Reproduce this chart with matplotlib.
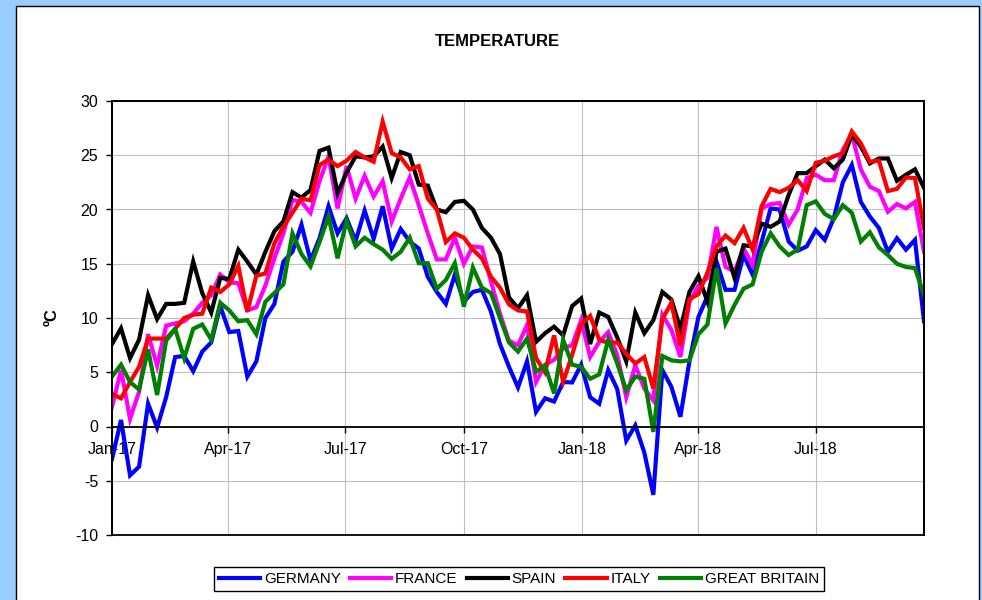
import numpy as np
import pandas as pd
import matplotlib
matplotlib.use('Agg')
import matplotlib.pyplot as plt
import matplotlib.dates as mdates
from matplotlib.patches import Rectangle

plt.rcParams['font.family'] = ['Liberation Sans', 'DejaVu Sans']
plt.rcParams['axes.unicode_minus'] = False

# weekly temperatures, Jan 2017 - Sep 2018
weeks = pd.date_range('2017-01-01', periods=91, freq='7D')

germany = [-3.0, 0.6, -4.5, -3.7, 2.1, -0.1, 2.7, 6.4, 6.5, 5.1,
           6.9, 7.75, 11.1, 8.7, 8.8, 4.6, 6.0, 10.0, 11.3, 15.2,
           16.1, 18.6, 15.3, 17.35, 20.3, 17.8, 19.2, 17.1, 19.9, 17.3,
           20.3, 16.4, 18.2, 17.05, 16.4, 13.8, 12.4, 11.3, 14.0, 11.5,
           12.4, 12.6, 10.6, 7.6, 5.5, 3.6, 6.0, 1.35, 2.6, 2.3,
           4.1, 4.06, 5.7, 2.7, 2.1, 5.2, 3.45, -1.3, 0.1, -2.4,
           -6.3, 5.2, 3.66, 0.9, 6.0, 10.1, 12.0, 15.2, 12.6, 12.6,
           15.8, 14.0, 17.0, 20.1, 20.0, 17.05, 16.2, 16.6, 18.1, 17.2,
           19.2, 22.5, 24.1, 20.7, 19.35, 18.3, 16.1, 17.35, 16.3, 17.2,
           9.7]

france = [1.8, 5.2, 0.7, 3.2, 8.5, 5.6, 9.3, 9.5, 9.7, 10.4,
          11.4, 12.1, 14.0, 13.3, 13.2, 10.7, 11.0, 13.0, 15.5, 17.8,
          20.9, 20.7, 19.7, 22.6, 24.9, 20.1, 24.0, 21.0, 23.1, 21.2,
          22.6, 18.9, 21.0, 22.95, 20.4, 17.8, 15.4, 15.4, 17.4, 15.0,
          16.6, 16.5, 13.4, 10.4, 7.9, 7.5, 9.35, 4.1, 5.7, 6.15,
          7.2, 7.5, 9.8, 6.4, 7.8, 8.7, 6.6, 2.7, 5.65, 3.5,
          2.4, 10.3, 8.9, 6.4, 11.5, 13.0, 13.7, 18.4, 14.7, 14.3,
          16.4, 14.9, 20.1, 20.5, 20.6, 18.6, 20.0, 22.9, 23.2, 22.7,
          22.7, 25.5, 26.9, 23.7, 22.1, 21.7, 19.8, 20.5, 20.1, 20.7,
          16.1]

spain = [7.6, 9.05, 6.3, 8.0, 12.1, 9.9, 11.3, 11.3, 11.4, 15.2,
         12.3, 10.5, 13.7, 13.6, 16.3, 15.2, 14.0, 16.1, 18.0, 18.9,
         21.6, 21.1, 21.8, 25.4, 25.7, 21.5, 23.4, 24.9, 24.8, 24.9,
         25.8, 22.9, 25.3, 25.0, 22.3, 22.2, 20.0, 19.75, 20.7, 20.8,
         20.0, 18.3, 17.4, 15.9, 11.9, 10.9, 12.1, 7.8, 8.6, 9.2,
         8.4, 11.1, 11.8, 7.6, 10.5, 10.1, 8.2, 6.0, 10.5, 8.6,
         9.8, 12.4, 11.7, 9.0, 12.4, 13.85, 11.5, 16.1, 16.4, 13.7,
         16.7, 16.6, 18.7, 18.4, 18.9, 21.35, 23.35, 23.35, 24.0, 24.6,
         23.8, 24.6, 26.9, 25.8, 24.25, 24.7, 24.7, 22.65, 23.2, 23.7,
         22.0]

italy = [3.0, 2.6, 4.1, 5.5, 8.1, 8.1, 8.1, 9.0, 10.0, 10.3,
         10.4, 12.8, 12.4, 13.1, 14.8, 10.6, 13.9, 14.1, 16.9, 18.4,
         19.7, 21.0, 20.85, 24.1, 24.6, 24.0, 24.5, 25.3, 24.8, 24.4,
         28.1, 25.2, 24.8, 23.7, 24.0, 21.0, 20.0, 17.0, 17.8, 17.4,
         16.3, 15.5, 13.8, 12.8, 11.25, 10.7, 10.6, 6.3, 5.0, 8.4,
         4.1, 6.6, 9.4, 10.2, 8.0, 7.7, 7.75, 6.7, 5.8, 6.4,
         3.5, 9.9, 11.4, 7.4, 11.75, 12.2, 14.2, 16.6, 17.6, 16.9,
         18.3, 16.3, 20.3, 21.9, 21.6, 22.0, 22.7, 21.7, 24.3, 24.5,
         24.9, 25.2, 27.2, 26.1, 24.4, 24.5, 21.7, 21.9, 22.95, 22.9,
         18.3]

great_britain = [4.6, 5.7, 4.1, 3.4, 7.1, 2.9, 7.9, 9.0, 6.3, 9.0,
                 9.4, 8.0, 11.4, 10.7, 9.7, 9.8, 8.5, 11.5, 12.3, 13.1,
                 17.8, 15.9, 14.75, 17.0, 19.35, 15.5, 18.95, 16.6, 17.4, 16.8,
                 16.3, 15.45, 16.1, 17.4, 15.05, 15.05, 12.7, 13.5, 15.05, 11.05,
                 14.65, 12.8, 12.3, 10.0, 7.75, 6.9, 8.1, 5.05, 5.6, 3.05,
                 8.0, 5.7, 5.5, 4.4, 4.8, 8.0, 5.8, 3.35, 4.6, 4.4,
                 -0.5, 6.5, 6.1, 6.0, 6.1, 8.5, 9.4, 14.6, 9.5, 11.2,
                 12.7, 13.1, 16.1, 17.8, 16.6, 15.8, 16.3, 20.4, 20.75, 19.6,
                 19.1, 20.4, 19.7, 17.05, 17.9, 16.5, 15.8, 15.0, 14.7, 14.6,
                 12.1]

series_names = ['GERMANY', 'FRANCE', 'SPAIN', 'ITALY', 'GREAT BRITAIN']
series_colors = ['#0000FF', '#FF00FF', '#000000', '#FF0000', '#008000']


def main():
    fig = plt.figure(figsize=(9.82, 6), dpi=100, facecolor='#99CCFF')

    # white chart panel inside the blue frame (kept behind the axes)
    fig.patches.append(Rectangle((16 / 982, -0.01), (979 - 16) / 982, 1.01 - 6 / 600,
                                 transform=fig.transFigure, facecolor='white',
                                 edgecolor='black', linewidth=1.0, zorder=-1))

    ax = fig.add_axes([112 / 982, 1 - 535 / 600, (924 - 112) / 982, (535 - 101) / 600])
    ax.set_facecolor('white')

    all_series = [germany, france, spain, italy, great_britain]
    for vals, name, col in zip(all_series, series_names, series_colors):
        ax.plot(weeks, vals, color=col, linewidth=3, label=name, solid_joinstyle='miter')

    ax.set_xlim(weeks[0], weeks[-1])
    ax.set_ylim(-10, 30)
    ax.set_yticks(np.arange(-10, 31, 5))

    quarters = pd.date_range('2017-01-01', '2018-07-01', freq='QS')
    ax.set_xticks(quarters)
    ax.xaxis.set_major_formatter(mdates.DateFormatter('%b-%y'))

    ax.grid(True, color='#C0C0C0', linewidth=0.8)
    ax.set_axisbelow(True)

    # x axis crosses at zero, plot area keeps a full box
    ax.spines['bottom'].set_position(('data', 0))
    ax.spines['bottom'].set_linewidth(1.3)
    for s in ['left', 'top', 'right']:
        ax.spines[s].set_linewidth(1.3)
    ax.add_patch(Rectangle((0, 0), 1, 1, transform=ax.transAxes, fill=False,
                           edgecolor='black', linewidth=1.3, zorder=3, clip_on=False))

    ax.tick_params(axis='x', direction='out', length=4, width=1, pad=7, labelsize=11.5)
    ax.tick_params(axis='y', direction='out', length=4, width=1, pad=6, labelsize=11.5)

    fig.text(497 / 982, 1 - 42 / 600, 'TEMPERATURE', ha='center', va='center',
             fontsize=12, fontweight='bold')
    fig.text(52 / 982, 1 - 317 / 600, 'ºC', ha='center', va='center', rotation=90,
             fontsize=12, fontweight='bold')

    leg = ax.legend(loc='center', bbox_to_anchor=(519 / 982, 1 - 579 / 600),
                    bbox_transform=fig.transFigure, ncol=5, fontsize=11,
                    frameon=True, fancybox=False, framealpha=1, edgecolor='black',
                    handlelength=2.7, handletextpad=0.25, columnspacing=0.6,
                    borderpad=0.3, borderaxespad=0)
    leg.get_frame().set_linewidth(1.0)

    fig.savefig('out.png', dpi=100, facecolor=fig.get_facecolor())


if __name__ == "__main__":
    main()
